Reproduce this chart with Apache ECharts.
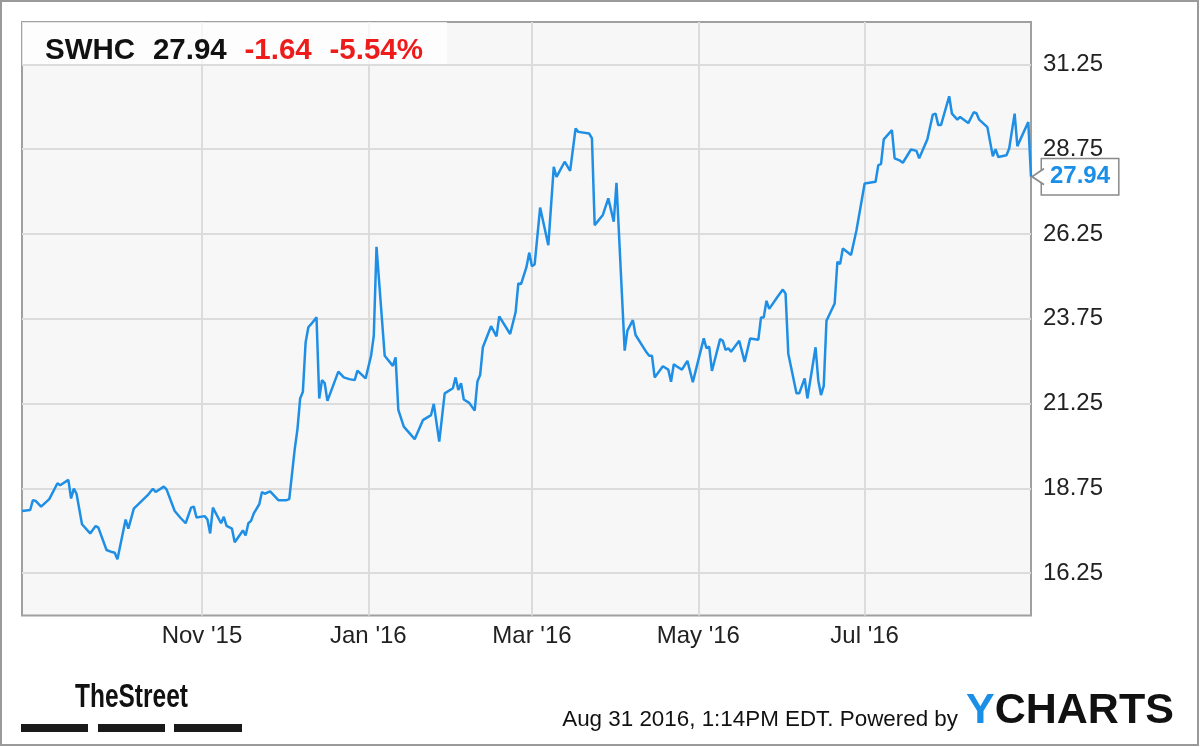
<!DOCTYPE html>
<html><head><meta charset="utf-8">
<script src="https://cdn.jsdelivr.net/npm/echarts@6/dist/echarts.min.js"></script>
<style>html,body{margin:0;padding:0;background:#fff}#c{width:1200px;height:747px}</style>
</head><body><div id="c"></div>
<script>
const ticker = 'SWHC', lastPrice = '27.94', change = '-1.64', changePct = '-5.54%';
const xMin = '2015-08-27', xMax = '2016-08-31';
const yMin = 15, yMax = 32.5;
const yTicks = [16.25, 18.75, 21.25, 23.75, 26.25, 28.75, 31.25];
const xTickDates = ['2015-11-01', '2016-01-01', '2016-03-01', '2016-05-01', '2016-07-01'];
const xTickLabels = ["Nov '15", "Jan '16", "Mar '16", "May '16", "Jul '16"];
const dates = [
'2015-08-27','2015-08-30','2015-08-31','2015-09-01','2015-09-03','2015-09-06','2015-09-09','2015-09-10','2015-09-13','2015-09-14',
'2015-09-15','2015-09-16','2015-09-18','2015-09-21','2015-09-23','2015-09-24','2015-09-27','2015-09-29','2015-09-30','2015-10-01',
'2015-10-04','2015-10-05','2015-10-07','2015-10-12','2015-10-14','2015-10-15','2015-10-18','2015-10-19','2015-10-22','2015-10-24',
'2015-10-26','2015-10-28','2015-10-29','2015-10-30','2015-11-02','2015-11-03','2015-11-04','2015-11-05','2015-11-08','2015-11-09',
'2015-11-10','2015-11-12','2015-11-13','2015-11-15','2015-11-16','2015-11-17','2015-11-18','2015-11-19','2015-11-20','2015-11-22',
'2015-11-23','2015-11-24','2015-11-26','2015-11-29','2015-12-02','2015-12-03','2015-12-05','2015-12-06','2015-12-07','2015-12-08',
'2015-12-09','2015-12-10','2015-12-11','2015-12-13','2015-12-14','2015-12-15','2015-12-16','2015-12-17','2015-12-21','2015-12-23',
'2015-12-25','2015-12-27','2015-12-28','2015-12-31','2016-01-02','2016-01-03','2016-01-04','2016-01-07','2016-01-10','2016-01-11',
'2016-01-12','2016-01-14','2016-01-18','2016-01-21','2016-01-24','2016-01-25','2016-01-27','2016-01-29','2016-02-01','2016-02-02',
'2016-02-03','2016-02-04','2016-02-05','2016-02-07','2016-02-09','2016-02-10','2016-02-11','2016-02-12','2016-02-15','2016-02-17',
'2016-02-18','2016-02-22','2016-02-24','2016-02-25','2016-02-26','2016-02-28','2016-02-29','2016-03-01','2016-03-02','2016-03-04',
'2016-03-07','2016-03-09','2016-03-10','2016-03-11','2016-03-13','2016-03-15','2016-03-17','2016-03-18','2016-03-22','2016-03-23',
'2016-03-24','2016-03-27','2016-03-29','2016-03-31','2016-04-01','2016-04-04','2016-04-05','2016-04-07','2016-04-08','2016-04-12',
'2016-04-13','2016-04-14','2016-04-15','2016-04-18','2016-04-20','2016-04-21','2016-04-22','2016-04-23','2016-04-25','2016-04-27',
'2016-04-29','2016-05-03','2016-05-04','2016-05-05','2016-05-06','2016-05-09','2016-05-10','2016-05-11','2016-05-12','2016-05-13',
'2016-05-16','2016-05-18','2016-05-20','2016-05-23','2016-05-24','2016-05-25','2016-05-26','2016-05-27','2016-05-30','2016-06-01',
'2016-06-02','2016-06-03','2016-06-06','2016-06-07','2016-06-09','2016-06-10','2016-06-13','2016-06-14','2016-06-15','2016-06-16',
'2016-06-17','2016-06-20','2016-06-21','2016-06-22','2016-06-23','2016-06-26','2016-06-28','2016-07-01','2016-07-05','2016-07-06',
'2016-07-07','2016-07-08','2016-07-11','2016-07-12','2016-07-14','2016-07-15','2016-07-18','2016-07-20','2016-07-21','2016-07-24',
'2016-07-26','2016-07-27','2016-07-28','2016-07-29','2016-08-01','2016-08-02','2016-08-04','2016-08-05','2016-08-08','2016-08-10',
'2016-08-11','2016-08-12','2016-08-15','2016-08-17','2016-08-18','2016-08-19','2016-08-22','2016-08-23','2016-08-25','2016-08-26',
'2016-08-30','2016-08-31'];
const prices = [
18.08,18.11,18.40,18.38,18.21,18.43,18.90,18.84,19.00,18.45,
18.74,18.59,17.69,17.42,17.64,17.59,16.93,16.87,16.85,16.66,
17.83,17.56,18.15,18.54,18.74,18.64,18.80,18.72,18.08,17.89,
17.72,18.18,18.21,17.89,17.93,17.83,17.42,18.18,17.72,17.91,
17.64,17.56,17.16,17.39,17.51,17.36,17.72,17.79,18.01,18.28,
18.64,18.59,18.66,18.40,18.40,18.43,19.90,20.49,21.40,21.60,
23.05,23.50,23.59,23.79,21.40,21.94,21.85,21.33,22.19,22.02,
21.97,21.94,22.22,21.99,22.66,23.25,25.87,22.66,22.36,22.61,
21.06,20.57,20.20,20.76,20.91,21.24,20.13,21.55,21.70,22.02,
21.65,21.85,21.37,21.27,21.04,21.90,22.09,22.91,23.53,23.23,
23.82,23.30,23.94,24.79,24.77,25.28,25.70,25.30,25.36,27.03,
25.92,28.23,27.93,28.08,28.38,28.11,29.36,29.26,29.21,29.07,
26.51,26.81,27.30,26.61,27.76,22.81,23.40,23.71,23.27,22.76,
22.66,22.66,22.02,22.35,22.25,21.89,22.41,22.35,22.25,22.51,
21.88,23.17,22.88,22.93,22.21,23.15,23.10,22.83,22.88,22.78,
23.10,22.48,23.17,23.13,23.79,23.79,24.28,24.04,24.39,24.61,
24.49,22.72,21.55,21.55,21.99,21.40,22.91,21.93,21.50,21.77,
23.69,24.20,25.43,25.36,25.82,25.63,26.36,27.74,27.79,28.28,
28.31,29.04,29.31,28.48,28.41,28.35,28.74,28.70,28.48,29.04,
29.77,29.80,29.46,29.46,30.31,29.80,29.62,29.70,29.52,29.84,
29.81,29.62,29.40,28.54,28.75,28.52,28.57,28.77,29.80,28.84,
29.55,27.94];

const FONT = "'Liberation Sans', Arial, sans-serif";
const LINE = '#1f8fe6';
const ts = s => { const p = s.split('-').map(Number); return new Date(p[0], p[1] - 1, p[2]).getTime(); };
const xTickValues = xTickDates.map(ts);
const last = dates.length - 1;

const chart = echarts.init(document.getElementById('c'), null, {renderer: 'canvas'});
chart.setOption({
  animation: false,
  backgroundColor: '#ffffff',
  textStyle: {fontFamily: FONT},
  title: {
    text: '{k|' + ticker + '}  {k|' + lastPrice + '}  {r|' + change + '}  {r|' + changePct + '}',
    left: 45, top: 35, padding: 0, z: 8,
    textStyle: {
      fontSize: 32, fontWeight: 'bold', fontFamily: FONT, color: '#111', lineHeight: 32,
      rich: {
        k: {fontSize: 29.5, fontWeight: 'bold', fontFamily: FONT, color: '#111', lineHeight: 32},
        r: {fontSize: 29.5, fontWeight: 'bold', fontFamily: FONT, color: '#ee1b1b', lineHeight: 32}
      }
    }
  },
  grid: {
    left: 22, right: 169, top: 22, bottom: 131.5,
    show: true, backgroundColor: '#f7f7f7', borderColor: '#a0a0a0', borderWidth: 2
  },
  xAxis: {
    type: 'value', min: ts(xMin), max: ts(xMax),
    axisLine: {show: false},
    axisTick: {show: false, customValues: xTickValues},
    splitLine: {show: true, lineStyle: {color: '#dcdcdc', width: 2}},
    axisLabel: {
      customValues: xTickValues,
      margin: 9, fontSize: 24, color: '#222', fontFamily: FONT,
      formatter: function (v) {
        const i = xTickValues.indexOf(Number(v));
        return i >= 0 ? xTickLabels[i] : '';
      }
    }
  },
  yAxis: {
    type: 'value', position: 'right', min: yMin, max: yMax,
    axisLine: {show: false},
    axisTick: {show: false, customValues: yTicks},
    splitLine: {show: true, lineStyle: {color: '#dcdcdc', width: 2}},
    axisLabel: {
      customValues: yTicks,
      margin: 12, fontSize: 24, color: '#222', fontFamily: FONT,
      formatter: v => Number(v).toFixed(2)
    }
  },
  series: [{
    type: 'line',
    data: dates.map((d, i) => [ts(d), prices[i]]),
    showSymbol: false, symbol: 'none',
    lineStyle: {color: LINE, width: 2.5},
    itemStyle: {color: LINE},
    z: 3,
    endLabel: {
      show: true, distance: 11,
      formatter: () => lastPrice,
      color: '#1a8fe8', fontWeight: 'bold', fontSize: 24, fontFamily: FONT,
      backgroundColor: '#ffffff', borderColor: '#8a8a8a', borderWidth: 1.5,
      padding: [6, 8, 5, 8]
    },
    markPoint: {
      silent: true, z: 10,
      data: [{
        coord: [ts(dates[last]), prices[last]],
        symbol: 'path://M12 0L0 8L12 16',
        symbolSize: [12, 16], symbolOffset: [7, 0],
        itemStyle: {color: '#ffffff', borderColor: '#8a8a8a', borderWidth: 1.5},
        label: {show: false}
      }]
    }
  }],
  graphic: [
    {type: 'rect', z: 1, shape: {x: 22, y: 22, width: 425, height: 42},
     style: {fill: 'rgba(255,255,255,0.72)'}},
    {type: 'rect', z: 20, shape: {x: 1, y: 1, width: 1197, height: 744},
     style: {fill: 'none', stroke: '#9a9a9a', lineWidth: 2}},
    {type: 'text', z: 20, x: 75, y: 681, scaleX: 0.72,
     style: {text: 'TheStreet', font: 'bold 34px ' + FONT, fill: '#111'}},
    {type: 'rect', z: 20, shape: {x: 21, y: 724, width: 67, height: 8}, style: {fill: '#1a1a1a'}},
    {type: 'rect', z: 20, shape: {x: 98, y: 724, width: 67, height: 8}, style: {fill: '#1a1a1a'}},
    {type: 'rect', z: 20, shape: {x: 174, y: 724, width: 68, height: 8}, style: {fill: '#1a1a1a'}},
    {type: 'text', z: 20, right: 242, top: 709,
     style: {text: 'Aug 31 2016, 1:14PM EDT. Powered by', font: '22.4px ' + FONT, fill: '#111'}},
    {type: 'text', z: 20, left: 966, top: 690,
     style: {text: '{y|Y}{c|CHARTS}', font: 'bold 43px ' + FONT,
       rich: {y: {fill: '#1a8fe8', font: 'bold 43px ' + FONT}, c: {fill: '#111', font: 'bold 43px ' + FONT}}}}
  ]
});
</script></body></html>
